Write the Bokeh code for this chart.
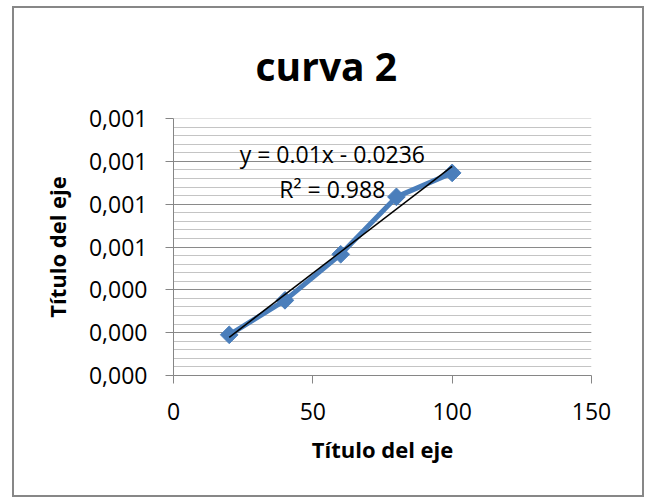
import numpy as np
from bokeh.plotting import figure
from bokeh.models import FixedTicker, CustomJSTickFormatter, Label, Range1d, Title
from bokeh.embed import file_html
from bokeh.resources import INLINE

# data
x_vals = [20, 40, 60, 80, 100]
y_vals = [0.000190, 0.000351, 0.000566, 0.000834, 0.000946]
x_ticks = [0, 50, 100, 150]
y_ticks = [0.0, 0.0002, 0.0004, 0.0006, 0.0008, 0.0010, 0.0012]
y_minor = [i * 0.00004 for i in range(31)]
title_text = "curva 2"
axis_title = "Título del eje"
eq_text = "y = 0.01x - 0.0236"
r2_text = "R² = 0.988"

FONT = "Open Sans"
GRID_MAJOR = "#8a8a8a"
GRID_MINOR = "#c4c4c4"
AXIS_C = "#868686"
BLUE = "#4A7EBB"

p = figure(width=628, height=487, output_backend="svg", toolbar_location=None,
           x_range=Range1d(0, 150), y_range=Range1d(0, 0.0012),
           min_border_left=159, min_border_right=51, min_border_top=110, min_border_bottom=120,
           margin=(8, 4, 3, 14),
           styles={"outline": "2px solid #878787", "outline-offset": "0px"})
p.background_fill_color = "white"
p.border_fill_color = "white"
p.outline_line_color = None

xax = p.below[0]
yax = p.left[0]

# axes
xax.ticker = FixedTicker(ticks=x_ticks)
yax.ticker = FixedTicker(ticks=y_ticks, minor_ticks=y_minor)
yax.formatter = CustomJSTickFormatter(code="return tick.toFixed(3).replace('.', ',');")
for ax in (xax, yax):
    ax.axis_line_color = AXIS_C
    ax.axis_line_width = 1
    ax.major_tick_line_color = AXIS_C
    ax.major_tick_out = 8
    ax.major_tick_in = 0
    ax.minor_tick_line_color = None
    ax.major_label_text_font = FONT
    ax.major_label_text_font_size = "23px"
    ax.major_label_text_color = "black"
    ax.axis_label = axis_title
    ax.axis_label_text_font = FONT
    ax.axis_label_text_font_style = "bold"
    ax.axis_label_text_font_size = "22px"
    ax.axis_label_text_color = "black"
yax.major_label_standoff = 18
yax.axis_label_standoff = 14
xax.major_label_standoff = 19
xax.axis_label_standoff = 11

p.xgrid.grid_line_color = None
p.ygrid.grid_line_color = GRID_MAJOR
p.ygrid.grid_line_width = 1
p.ygrid.minor_grid_line_color = GRID_MINOR
p.ygrid.minor_grid_line_width = 1

t = Title(text=title_text, align="left", offset=82, text_font=FONT, text_font_style="bold",
          text_font_size="39px", text_color="black", standoff=54)
p.add_layout(t, "above")

# series
p.line(x_vals, y_vals, line_color=BLUE, line_width=5)
p.scatter(x_vals, y_vals, marker="square", angle=np.pi / 4, size=12.5,
          fill_color=BLUE, line_color=BLUE, line_width=1)

# linear trendline from the data
slope, intercept = np.polyfit(x_vals, y_vals, 1)
tx = [min(x_vals), max(x_vals)]
ty = [slope * v + intercept for v in tx]
p.line(tx, ty, line_color="black", line_width=1.5)

p.add_layout(Label(x=57, y=0.001035, text=eq_text, text_align="center", text_baseline="middle",
                   text_font=FONT, text_font_size="23px", text_color="black"))
p.add_layout(Label(x=57, y=0.000872, text=r2_text, text_align="center", text_baseline="middle",
                   text_font=FONT, text_font_size="23px", text_color="black"))

open("out.html", "w").write(file_html(p, INLINE))
